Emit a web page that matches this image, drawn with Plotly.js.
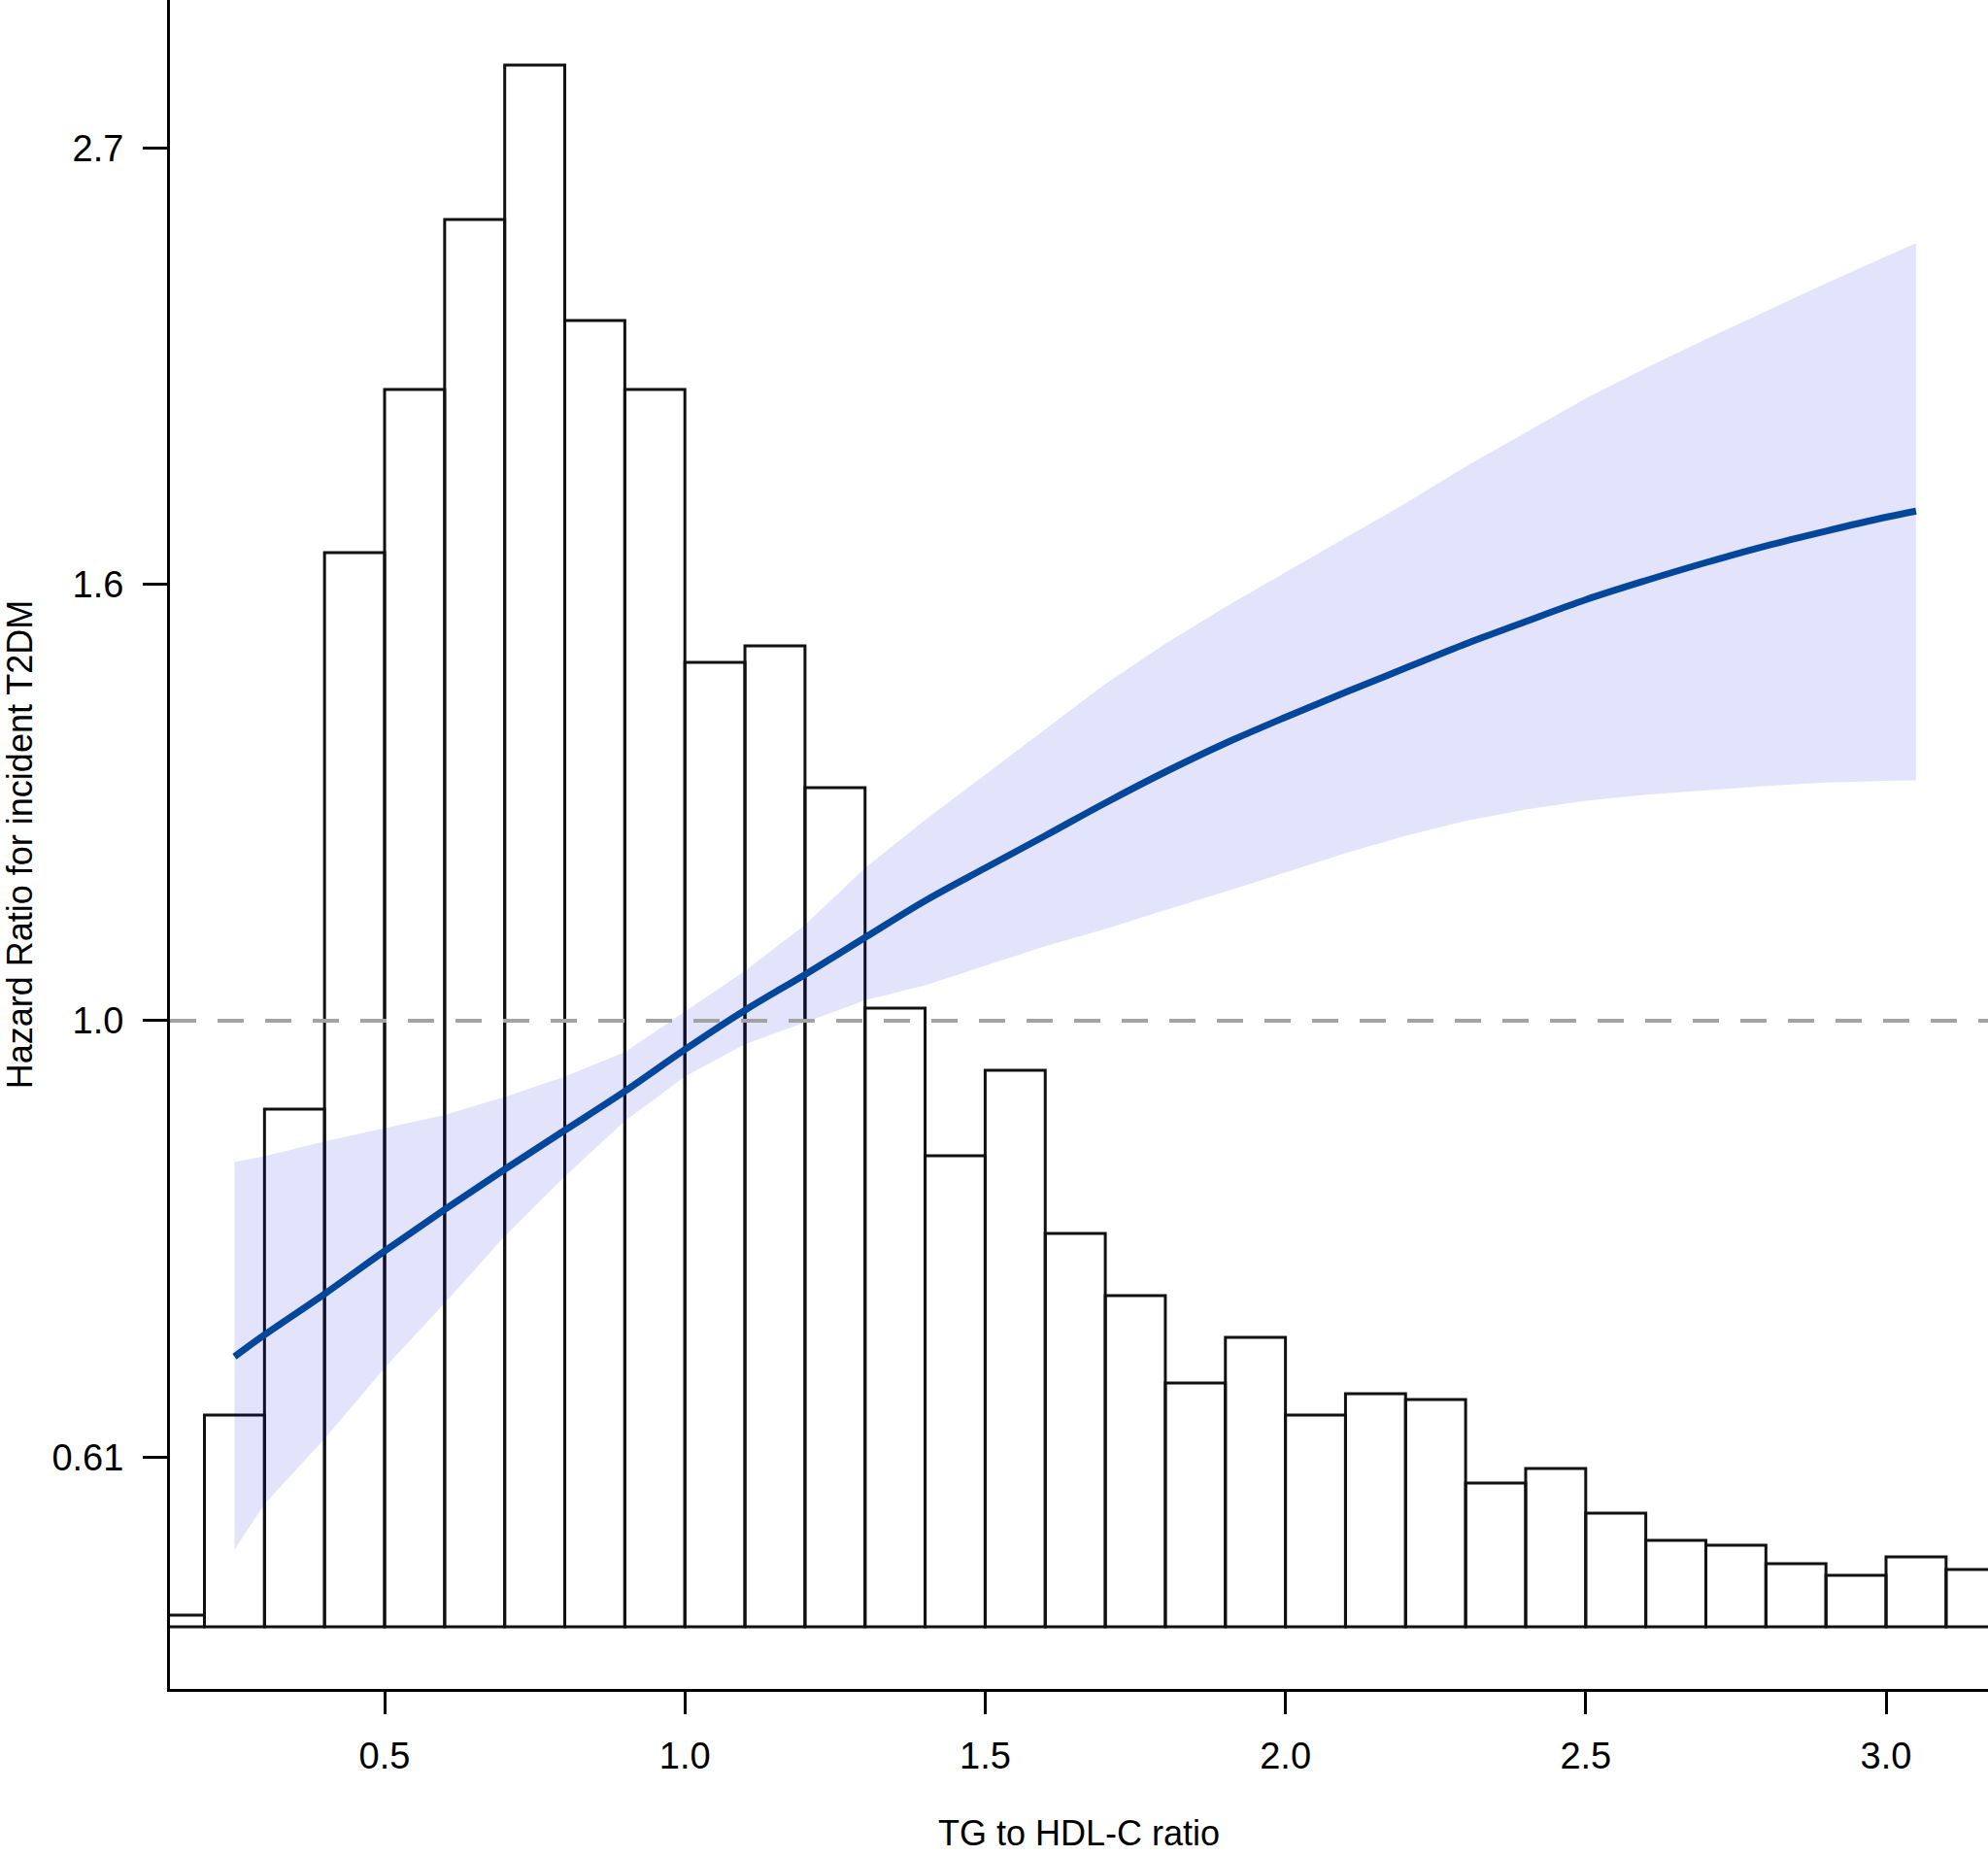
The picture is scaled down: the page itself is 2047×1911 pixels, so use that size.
<!DOCTYPE html>
<html>
<head>
<meta charset="utf-8">
<script src="https://cdn.plot.ly/plotly-3.0.1.min.js"></script>
<style>html,body{margin:0;padding:0;background:#fff;}#chart{width:2047px;height:1911px;}</style>
</head>
<body>
<div id="chart"></div>
<script>
// Histogram of TG to HDL-C ratio (bin centres, bin width 0.1; relative counts)
const binCenters = [0.15,0.25,0.35,0.45,0.55,0.65,0.75,0.85,0.95,1.05,1.15,1.25,1.35,1.45,1.55,1.65,1.75,1.85,1.95,2.05,2.15,2.25,2.35,2.45,2.55,2.65,2.75,2.85,2.95,3.05,3.15];
const binCounts  = [12,218,533,1106,1274,1449,1608,1345,1274,993,1010,864,637,485,573,405,341,251,298,218,240,234,148,163,117,89,84,65,53,72,59];

// Restricted cubic spline: hazard ratio and 95% CI
const ratioX  = [0.25,0.3,0.4,0.5,0.6,0.7,0.8,0.9,1.0,1.1,1.2,1.3,1.4,1.5,1.6,1.7,1.8,1.9,2.0,2.1,2.2,2.3,2.4,2.5,2.6,2.7,2.8,2.9,3.0,3.05];
const hr      = [0.6805,0.6977,0.7312,0.7680,0.8054,0.8434,0.8820,0.9223,0.9675,1.0121,1.0544,1.1001,1.1474,1.1912,1.2361,1.2835,1.3300,1.3744,1.4160,1.4570,1.4980,1.5400,1.5800,1.6200,1.6560,1.6905,1.7229,1.7525,1.7807,1.7932];
const hrUpper = [0.8506,0.8562,0.8708,0.8838,0.8976,0.9164,0.9381,0.9646,1.0101,1.0587,1.1163,1.1912,1.2586,1.3258,1.3965,1.4711,1.5404,1.6065,1.6719,1.7385,1.8094,1.8871,1.9621,2.0401,2.1128,2.1837,2.2547,2.3280,2.4013,2.4376];
const hrLower = [0.5455,0.5747,0.6194,0.6717,0.7236,0.7812,0.8363,0.8914,0.9380,0.9734,0.9985,1.0237,1.0415,1.0651,1.0892,1.1109,1.1354,1.1595,1.1853,1.2117,1.2361,1.2573,1.2738,1.2866,1.2956,1.3021,1.3087,1.3139,1.3165,1.3172];

const xTickVals = [0.5,1.0,1.5,2.0,2.5,3.0];
const xTickText = ['0.5','1.0','1.5','2.0','2.5','3.0'];
const yTickText = ['0.61','1.0','1.6','2.7'];
const yTickVals = [Math.exp(-0.5), 1, Math.exp(0.5), Math.exp(1)];

const FONT = '"Liberation Sans", Arial, sans-serif';

const traces = [
  {
    type: 'bar', x: binCenters, y: binCounts, width: 0.1,
    xaxis: 'x', yaxis: 'y',
    marker: {color: 'rgba(0,0,0,0)', line: {color: '#111', width: 3}},
    hoverinfo: 'skip', showlegend: false
  },
  {
    type: 'scatter', mode: 'lines',
    x: ratioX.concat(ratioX.slice().reverse()),
    y: hrUpper.concat(hrLower.slice().reverse()),
    fill: 'toself', fillcolor: 'rgba(0,0,230,0.11)',
    line: {width: 0, color: 'rgba(0,0,0,0)'},
    xaxis: 'x', yaxis: 'y2', hoverinfo: 'skip', showlegend: false
  },
  {
    type: 'scatter', mode: 'lines', x: ratioX, y: hr,
    line: {color: '#03479c', width: 7, shape: 'spline', smoothing: 1},
    xaxis: 'x', yaxis: 'y2', showlegend: false
  }
];

const layout = {
  width: 2047, height: 1911,
  margin: {l: 175, r: 0, t: 0, b: 172},
  paper_bgcolor: '#fff', plot_bgcolor: '#fff',
  font: {family: FONT, color: '#000', size: 38},
  showlegend: false,
  xaxis: {
    range: [0.1426, 3.1698], showgrid: false, zeroline: false,
    showline: true, linecolor: '#000', linewidth: 3,
    ticks: 'outside', ticklen: 23, tickwidth: 3, tickcolor: '#000',
    tickvals: xTickVals, ticktext: xTickText,
    tickfont: {family: FONT, size: 38, color: '#000'},
    ticklabelstandoff: 10,
    title: {text: 'TG to HDL-C ratio', font: {family: FONT, size: 36, color: '#000'}, standoff: 48}
  },
  yaxis: {
    range: [-64, 1675], visible: false, showgrid: false, zeroline: false, fixedrange: true
  },
  yaxis2: {
    type: 'log', overlaying: 'y', side: 'left',
    range: [Math.log10(0.465), Math.log10(3.221)],
    showgrid: false, zeroline: false,
    showline: true, linecolor: '#000', linewidth: 3,
    ticks: 'outside', ticklen: 25, tickwidth: 3, tickcolor: '#000',
    tickvals: yTickVals, ticktext: yTickText,
    tickfont: {family: FONT, size: 38, color: '#000'},
    ticklabelstandoff: 12,
    title: {text: 'Hazard Ratio for incident T2DM', font: {family: FONT, size: 36, color: '#000'}, standoff: 30}
  },
  shapes: [
    {type: 'line', xref: 'paper', x0: 0, x1: 1, yref: 'y2', y0: 1, y1: 1,
     line: {color: '#a3a3a3', width: 4, dash: '27px,22px'}, layer: 'above'}
  ]
};

Plotly.newPlot('chart', traces, layout, {displayModeBar: false, staticPlot: true});
</script>
</body>
</html>
